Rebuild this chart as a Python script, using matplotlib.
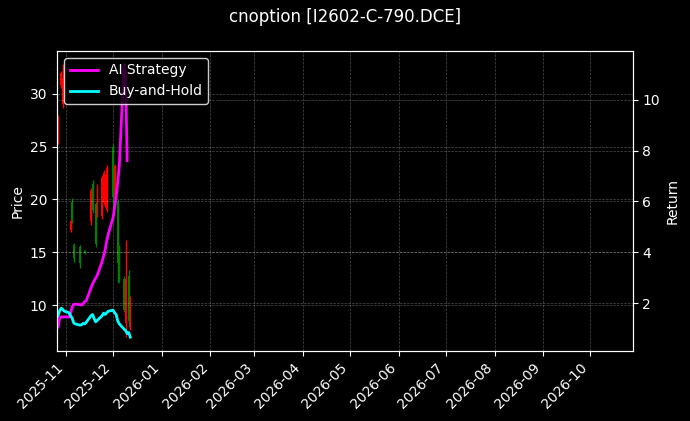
#  cnoption chart: daily candles of the option price with two return curves
#   price candles on the left axis, strategy / buy-and-hold returns on the right

import datetime as dt
import matplotlib
matplotlib.use("Agg")
import matplotlib.pyplot as plt
import matplotlib.dates as mdates
import pandas as pd

# candle data (dates that have a trade)
candle_dates = ["2025-10-27", "2025-10-29", "2025-10-30", "2025-11-04", "2025-11-05",
                "2025-11-06", "2025-11-10", "2025-11-13", "2025-11-17", "2025-11-18",
                "2025-11-20", "2025-11-21", "2025-11-24", "2025-11-25", "2025-11-26",
                "2025-11-27", "2025-12-01", "2025-12-02", "2025-12-04", "2025-12-05",
                "2025-12-08", "2025-12-09", "2025-12-11", "2025-12-12"]
opens  = [25.6, 30.8, 29.0, 17.1, 19.8, 15.7, 15.5, 15.1, 18.0, 21.5, 19.6, 18.6,
          18.4, 19.8, 19.5, 19.0, 25.0, 20.0, 19.8, 15.0, 12.5, 8.3, 12.8, 8.0]
highs  = [28.0, 32.2, 32.8, 18.2, 20.1, 15.9, 15.7, 15.2, 21.1, 21.8, 19.8, 21.5,
          22.3, 22.8, 22.4, 23.3, 25.3, 23.4, 20.0, 15.7, 12.8, 16.2, 13.3, 10.9]
lows   = [25.3, 30.6, 28.7, 16.9, 17.8, 14.1, 13.5, 14.8, 17.6, 18.7, 15.5, 18.3,
          18.2, 19.7, 19.3, 18.8, 18.3, 19.9, 12.1, 12.2, 9.3, 6.93, 7.9, 7.6]
closes = [27.6, 32.0, 31.5, 18.0, 18.0, 14.5, 14.0, 14.9, 20.8, 19.0, 15.8, 21.0,
          22.0, 22.5, 21.8, 23.0, 20.2, 23.2, 14.0, 12.5, 9.5, 12.5, 8.5, 10.5]

# return curves (every trading day)
ret_dates = ["2025-10-27", "2025-10-28", "2025-10-29", "2025-10-30", "2025-10-31",
             "2025-11-03", "2025-11-04", "2025-11-05", "2025-11-06", "2025-11-07",
             "2025-11-10", "2025-11-11", "2025-11-12", "2025-11-13", "2025-11-14",
             "2025-11-17", "2025-11-18", "2025-11-19", "2025-11-20", "2025-11-21",
             "2025-11-24", "2025-11-25", "2025-11-26", "2025-11-27", "2025-11-28",
             "2025-12-01", "2025-12-02", "2025-12-03", "2025-12-04", "2025-12-05",
             "2025-12-08", "2025-12-09", "2025-12-10", "2025-12-11", "2025-12-12"]
buy_hold = [1.50, 1.70, 1.80, 1.75, 1.68, 1.62, 1.50, 1.40, 1.22, 1.18,
            1.13, 1.15, 1.20, 1.18, 1.25, 1.50, 1.55, 1.38, 1.26, 1.32,
            1.50, 1.60, 1.55, 1.62, 1.68, 1.72, 1.62, 1.55, 1.30, 1.18,
            0.98, 0.92, 0.80, 0.84, 0.66]
ai_dates = ret_dates[:33]
ai_strategy = [1.05, 1.40, 1.46, 1.45, 1.46, 1.45, 1.60, 1.85, 1.95, 1.96,
               1.94, 1.92, 1.98, 2.05, 2.10, 2.60, 2.75, 2.88, 2.98, 3.10,
               3.62, 3.85, 4.10, 4.45, 4.72, 5.35, 5.75, 6.20, 6.75, 7.40,
               11.38, 11.10, 7.60]


def main():
    plt.style.use("dark_background")

    c_dates = pd.to_datetime(candle_dates)
    r_dates = pd.to_datetime(ret_dates)
    a_dates = pd.to_datetime(ai_dates)

    fig, ax = plt.subplots(figsize=(6.9, 4.21), dpi=100)
    fig.subplots_adjust(left=0.083, right=0.917, top=0.879, bottom=0.166)

    # candles
    colors = ["red" if c >= o else "green" for o, c in zip(opens, closes)]
    ax.vlines(c_dates, lows, highs, colors=colors, linewidth=1)
    body_low = [min(o, c) for o, c in zip(opens, closes)]
    body_h = [abs(c - o) for o, c in zip(opens, closes)]
    ax.bar(c_dates, body_h, bottom=body_low, width=1.0, color=colors)
    ax.set_ylabel("Price")
    ax.set_ylim(5.64, 34.07)
    ax.grid(True, linestyle="--", linewidth=0.5, alpha=0.3)

    # returns
    ax2 = ax.twinx()
    ax2.plot(a_dates, ai_strategy, color="magenta", linewidth=2, label="AI Strategy")
    ax2.plot(r_dates, buy_hold, color="cyan", linewidth=2, label="Buy-and-Hold")
    ax2.set_ylabel("Return")
    ax2.set_ylim(0.11, 11.92)
    ax2.grid(True, linestyle="--", linewidth=0.5, alpha=0.3)
    ax2.legend(loc="upper left", facecolor="black", edgecolor="white")

    ax.set_xlim(dt.datetime(2025, 10, 26, 12), dt.datetime(2026, 10, 28))
    ax.xaxis.set_major_locator(mdates.MonthLocator())
    ax.xaxis.set_major_formatter(mdates.DateFormatter("%Y-%m"))
    plt.setp(ax.get_xticklabels(), rotation=45, ha="right")

    fig.suptitle("cnoption [I2602-C-790.DCE]", fontsize=12)
    fig.savefig("out.png", dpi=100)


main()
